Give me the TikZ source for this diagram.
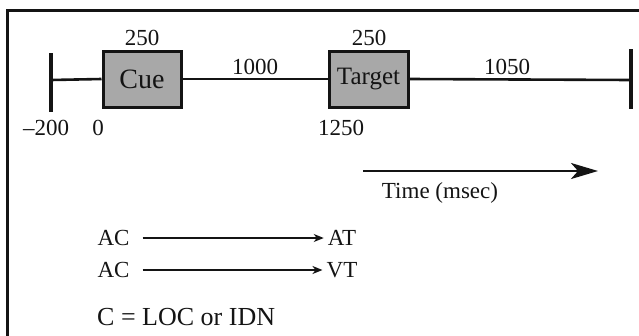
\documentclass[tikz,border=0pt]{standalone}
\usepackage{fontspec}
\setmainfont{Liberation Serif}
\usetikzlibrary{arrows.meta}
\definecolor{boxgray}{RGB}{168,168,168}
\definecolor{ink}{RGB}{20,20,20}
\tikzset{
  lbl/.style={font=\fontsize{23}{27}\selectfont, text=ink, inner sep=2pt},
  stim/.style={draw=ink, line width=3pt, fill=boxgray, font=\fontsize{25}{29}\selectfont, text=ink, inner sep=0pt},
  tl/.style={draw=ink, line width=2.6pt},
  tick/.style={draw=ink, line width=3.4pt},
  small/.style={draw=ink, line width=1.5pt, -{Stealth[length=10pt,width=8pt,inset=3pt]}},
  big/.style={draw=ink, line width=2.4pt, -{Stealth[length=27pt,width=16pt,inset=7pt]}}
}
\begin{document}
\begin{tikzpicture}[x=1pt,y=-1pt]
\useasboundingbox (0,0) rectangle (639,335);
% frame
\draw[ink, line width=3pt] (7,340) -- (7,10) -- (645,10);
% timeline
\coordinate (Ltop) at (51,53);
\coordinate (Lbot) at (51,112);
\coordinate (Lmid) at (51,80);
\coordinate (Rtop) at (631,49);
\coordinate (Rbot) at (631,109);
\coordinate (Rmid) at (631,80);
\node[stim, minimum width=78, minimum height=56, font=\fontsize{28}{32}\selectfont] (cue) at (142,79) {Cue};
\node[stim, minimum width=79, minimum height=56] (target) at (368.5,79) {Target};
\draw[tl] (Lmid) -- (cue.west);
\draw[tl] (cue.east) -- (target.west);
\draw[tl] (target.east) -- (Rmid);
\draw[tick] (Ltop) -- (Lbot);
\draw[tick] (Rtop) -- (Rbot);
% labels
\node[lbl] (d1) at (142,38) {250};
\node[lbl] (d2) at (369,38) {250};
\node[lbl] (d3) at (255,67) {1000};
\node[lbl] (d4) at (507,67) {1050};
\node[lbl] (t1) at (46,128) {–200};
\node[lbl] (t2) at (98,128) {0};
\node[lbl] (t3) at (341,128) {1250};
% time arrow
\coordinate (ts) at (363,171);
\coordinate (te) at (598,171);
\draw[big] (ts) -- (te);
\node[lbl] (time) at (440,193) {Time (msec)};
% conditions
\node[lbl] (ac1) at (113.5,238) {AC};
\node[lbl] (at) at (342,238) {AT};
\node[lbl] (ac2) at (113.5,270) {AC};
\node[lbl] (vt) at (342,270) {VT};
\draw[small, shorten <=11pt, shorten >=2pt] (ac1.east) -- (at.west);
\draw[small, shorten <=11pt, shorten >=2pt] (ac2.east) -- (vt.west);
\node[lbl, anchor=west, inner sep=0pt, font=\fontsize{26}{30}\selectfont] (note) at (97,317) {C = LOC or IDN};
\end{tikzpicture}
\end{document}
